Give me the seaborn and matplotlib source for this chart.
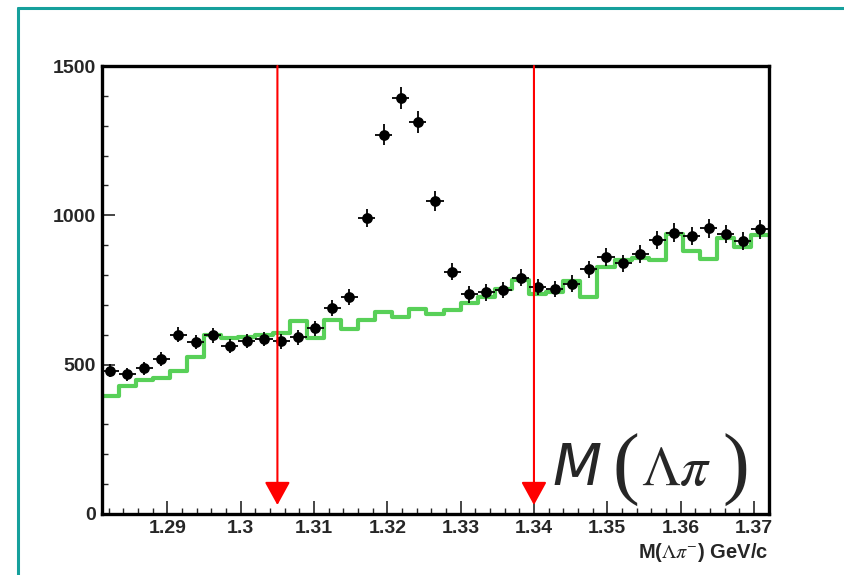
import numpy as np
import pandas as pd
import seaborn as sns
import matplotlib.pyplot as plt
from matplotlib.lines import Line2D
from matplotlib.ticker import MultipleLocator

# ---- data ----
x_min, x_max = 1.281, 1.372
n_bins = 39
data_counts = [479, 468, 488, 518, 601, 575, 598, 563, 579, 586,
               578, 591, 622, 689, 728, 991, 1270, 1392, 1312, 1048,
               811, 735, 742, 749, 791, 760, 753, 771, 819, 860,
               839, 871, 917, 942, 931, 956, 938, 914, 953]
bkg_counts = [396, 430, 450, 454, 480, 527, 599, 588, 594, 599,
              605, 647, 588, 649, 618, 649, 677, 660, 686, 668,
              683, 705, 727, 755, 785, 735, 742, 781, 727, 828,
              850, 858, 850, 936, 880, 853, 925, 894, 933]
cut_positions = [1.305, 1.34]
x_ticks = [1.29, 1.30, 1.31, 1.32, 1.33, 1.34, 1.35, 1.36, 1.37]
x_tick_labels = ["1.29", "1.3", "1.31", "1.32", "1.33", "1.34", "1.35", "1.36", "1.37"]
y_ticks = [0, 500, 1000, 1500]

edges = np.linspace(x_min, x_max, n_bins + 1)
centers = 0.5 * (edges[:-1] + edges[1:])
half_w = 0.5 * (edges[1] - edges[0])
df = pd.DataFrame({"mass": centers, "data": data_counts, "bkg": bkg_counts})

sns.set_style("white")
plt.rcParams["font.family"] = ["Liberation Sans", "DejaVu Sans"]

W, H = 844, 575
fig = plt.figure(figsize=(W / 100, H / 100), dpi=100)
ax = fig.add_axes([101.5 / W, (H - 514) / H, 667 / W, 448 / H])

# background (green histogram)
sns.histplot(data=df, x="mass", weights="bkg", bins=list(edges), element="step",
             fill=False, color="#58d058", linewidth=3, ax=ax, zorder=2)

# data points with error bars
ax.errorbar(df["mass"], df["data"], xerr=half_w, yerr=np.sqrt(df["data"]),
            fmt="none", ecolor="black", elinewidth=1.3, capsize=0, zorder=3)
sns.scatterplot(data=df, x="mass", y="data", color="black", s=60,
                edgecolor="black", linewidth=0, ax=ax, zorder=4)

# red cut arrows
for xc in cut_positions:
    ax.annotate("", xy=(xc, 30), xytext=(xc, 1500),
                arrowprops=dict(arrowstyle="-|>,head_length=0.4,head_width=0.22",
                                color="#ff0000", lw=1.5, mutation_scale=36,
                                shrinkA=0, shrinkB=0), zorder=5)

ax.set_xlim(x_min, x_max)
ax.set_ylim(0, 1500)
ax.set_xticks(x_ticks)
ax.set_xticklabels(x_tick_labels)
ax.set_yticks(y_ticks)
ax.xaxis.set_minor_locator(MultipleLocator(0.002))
ax.yaxis.set_minor_locator(MultipleLocator(100))
ax.tick_params(which="major", direction="in", length=9.5, width=1.2,
               labelsize=14, pad=4, top=False, right=False, bottom=True, left=True)
ax.tick_params(which="minor", direction="in", length=4.5, width=1.0,
               top=False, right=False, bottom=True, left=True)
for lab in ax.get_xticklabels() + ax.get_yticklabels():
    lab.set_fontweight("bold")
for sp in ax.spines.values():
    sp.set_linewidth(2.4)
    sp.set_color("black")
ax.set_ylabel("")
ax.set_xlabel(r"M($\Lambda\pi^{-}$) GeV/c", loc="right", fontsize=14.5,
              fontweight="bold", math_fontfamily="stix", labelpad=3)

# big label
fig.text(552 / W, (H - 485) / H, "M", fontsize=41, fontstyle="italic",
         family="DejaVu Sans", ha="left", va="baseline")
fig.text(612 / W, (H - 470) / H, "(", fontsize=58, family="Liberation Serif",
         ha="left", va="center")
fig.text(641 / W, (H - 485) / H, r"$\Lambda\pi$", fontsize=40,
         math_fontfamily="stix", ha="left", va="baseline")
fig.text(722 / W, (H - 470) / H, ")", fontsize=58, family="Liberation Serif",
         ha="left", va="center")

# teal slide frame
teal = "#16a09c"
fig.add_artist(Line2D([17.5 / W, 1.0], [(H - 8) / H, (H - 8) / H], color=teal, lw=2.2))
fig.add_artist(Line2D([17.5 / W, 17.5 / W], [0, (H - 8) / H], color=teal, lw=2.2))

fig.savefig("out.png", dpi=100)
